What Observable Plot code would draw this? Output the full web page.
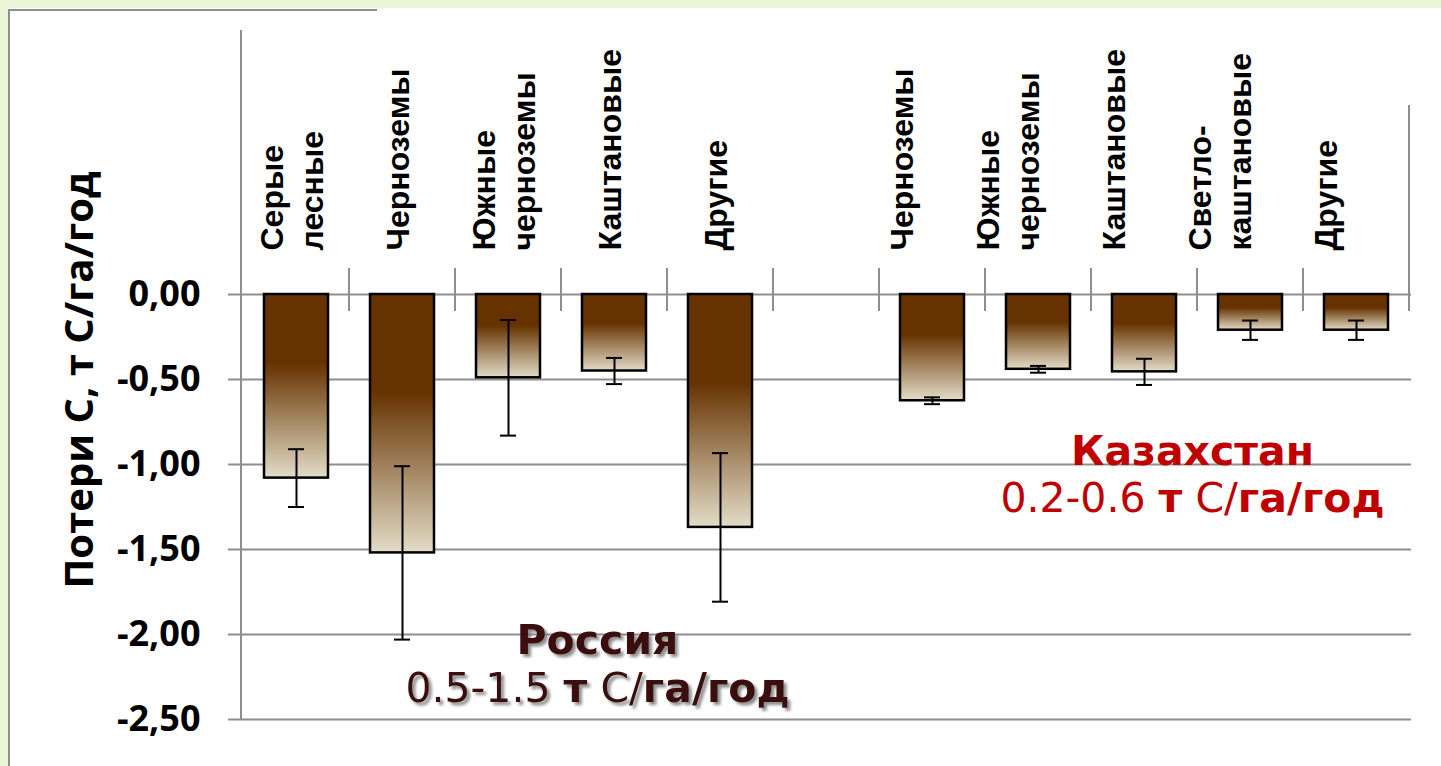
<!DOCTYPE html>
<html>
<head>
<meta charset="utf-8">
<script src="https://cdn.jsdelivr.net/npm/d3@7"></script>
<script src="https://cdn.jsdelivr.net/npm/@observablehq/plot@0.6"></script>
<style>
  html, body { margin: 0; padding: 0; width: 1441px; height: 766px; overflow: hidden; background: #eaf6d5; }
  #panel { position: absolute; left: 8px; top: 8px; right: 0; bottom: 0; background: #ffffff; }
  #edgeL { position: absolute; left: 8px; top: 9px; width: 2px; bottom: 0; background: #8e8e8e; }
  #edgeT { position: absolute; left: 8px; top: 9px; width: 369px; height: 2px; background: #8e8e8e; }
  #chart { position: absolute; left: 0; top: 0; }
</style>
</head>
<body>
<div id="panel"></div><div id="edgeL"></div><div id="edgeT"></div>
<div id="chart"></div>
<script>
// ---- data ----
const russiaSoils = ["Серые\nлесные", "Черноземы", "Южные\nчерноземы", "Каштановые", "Другие"];
const russiaLoss  = [-1.08, -1.52, -0.49, -0.45, -1.37];
const russiaErr   = [0.17, 0.51, 0.34, 0.077, 0.437];

const kazSoils = ["Черноземы", "Южные\nчерноземы", "Каштановые", "Светло-\nкаштановые", "Другие"];
const kazLoss  = [-0.625, -0.44, -0.455, -0.21, -0.21];
const kazErr   = [0.02, 0.02, 0.077, 0.057, 0.057];

const yTicks = [0, -0.5, -1, -1.5, -2, -2.5];
const yTitle = "Потери C, т C/га/год";

const rusTitle = "Россия";
const rusRange = ["0.5-1.5 ", "т", " C/", "га/год"];
const kazTitle = "Казахстан";
const kazRange = ["0.2-0.6 ", "т", " C/", "га/год"];
const rangeWeights = [400, 700, 400, 700];

// ---- table ----
const rusRows = russiaSoils.map((s, i) => ({key: "R" + i, soil: s, loss: russiaLoss[i], err: russiaErr[i]}));
const kazRows = kazSoils.map((s, i) => ({key: "K" + i, soil: s, loss: kazLoss[i], err: kazErr[i]}));
const rows = [...rusRows, ...kazRows];
const domain = [...rusRows.map(d => d.key), "gap", ...kazRows.map(d => d.key)];

const gridColor = "#8e8e8e";

const defs = () => {
  const d = d3.create("svg:defs");
  const g = d.append("linearGradient").attr("id", "barGrad")
    .attr("x1", 0).attr("y1", 0).attr("x2", 0).attr("y2", 1);
  g.append("stop").attr("offset", "0").attr("stop-color", "#663300");
  g.append("stop").attr("offset", "0.38").attr("stop-color", "#663300");
  g.append("stop").attr("offset", "1").attr("stop-color", "#e3dcc7");
  const f = d.append("filter").attr("id", "noteShadow")
    .attr("x", "-10%").attr("y", "-30%").attr("width", "130%").attr("height", "170%");
  f.append("feDropShadow").attr("dx", 3).attr("dy", 3).attr("stdDeviation", 1.6)
    .attr("flood-color", "#6f6f6f").attr("flood-opacity", 0.8);
  return d.node();
};

const catTicks = (index, scales, values, dims) => {
  const x = scales.x, y = scales.y, bw = x.bandwidth();
  const y0 = y(0);
  const g = d3.create("svg:g").attr("stroke", gridColor).attr("stroke-width", 2);
  const dom = x.domain();
  dom.slice(1).forEach(k => {
    g.append("line").attr("x1", x(k)).attr("x2", x(k)).attr("y1", y0 - 26).attr("y2", y0 + 17);
  });
  const xe = x(dom[dom.length - 1]) + bw;
  g.append("line").attr("x1", xe).attr("x2", xe).attr("y1", y0 - 189).attr("y2", y0 + 17);
  g.append("line")
    .attr("x1", dims.marginLeft).attr("x2", dims.marginLeft)
    .attr("y1", dims.marginTop).attr("y2", dims.height - dims.marginBottom);
  return g.node();
};

const labelFont = "Liberation Sans, Arial, sans-serif";
const noteFont = "DejaVu Sans, sans-serif";
const labelOpts = {
  x: "key", y: () => 0, text: "soil", rotate: -90, textAnchor: "start", lineAnchor: "middle",
  lineHeight: 1.25, dy: -44, fontSize: 32, fontWeight: 700, fontFamily: labelFont, fill: "black"
};
const noteOpts = {fontSize: 41, fontFamily: noteFont, lineAnchor: "middle", textAnchor: "middle"};

const chart = Plot.plot({
  width: 1441, height: 766,
  marginLeft: 241, marginRight: 30, marginTop: 30, marginBottom: 47,
  style: {background: "transparent", overflow: "visible"},
  x: {type: "band", domain, padding: 0, axis: null},
  y: {domain: [-2.5, 1.553]},
  marks: [
    defs,
    Plot.gridY(yTicks, {stroke: gridColor, strokeOpacity: 1, strokeWidth: 2}),
    Plot.axisY(yTicks, {
      tickSize: 13, tickPadding: 28, stroke: gridColor, strokeWidth: 2, strokeOpacity: 1,
      tickFormat: d => d.toFixed(2).replace(".", ","), label: null,
      fontSize: 36, fontWeight: 700, fontFamily: "Open Sans, sans-serif", fill: "black"
    }),
    catTicks,
    Plot.barY(rows, {x: "key", y1: () => 0, y2: "loss", fill: "url(#barGrad)", stroke: "black",
      strokeWidth: 2.5, insetLeft: 21, insetRight: 21}),
    Plot.ruleX(rows, {x: "key", y1: d => d.loss - d.err, y2: d => d.loss + d.err, stroke: "black", strokeWidth: 2}),
    Plot.tickY(rows, {x: "key", y: d => d.loss - d.err, stroke: "black", strokeWidth: 2, insetLeft: 45, insetRight: 45}),
    Plot.tickY(rows, {x: "key", y: d => d.loss + d.err, stroke: "black", strokeWidth: 2, insetLeft: 45, insetRight: 45}),
    Plot.text(rusRows, {...labelOpts, dx: -6}),
    Plot.text(kazRows, {...labelOpts, dx: -32}),
    Plot.text([yTitle], {frameAnchor: "left", rotate: -90, dx: -161, dy: 5, fontSize: 40, fontWeight: 700,
      fontFamily: "Open Sans, sans-serif", fill: "black", textAnchor: "middle"}),
    // Russia note
    Plot.text([rusTitle], {...noteOpts, x: () => "R3", y: () => -2.035, dx: -17, fontWeight: 700, fill: "#3a0e09"}),
    Plot.text([rusRange.join("")], {...noteOpts, x: () => "R3", y: () => -2.32, dx: -17, fill: "#3a0e09"}),
    // Kazakhstan note
    Plot.text([kazTitle], {...noteOpts, x: () => "K3", y: () => -0.926, dx: -58, fontWeight: 700, fill: "#c00000"}),
    Plot.text([kazRange.join("")], {...noteOpts, x: () => "K3", y: () => -1.203, dx: -58, fill: "#c00000"})
  ]
});

// mixed weights within the range lines, shadow on the Russia note
const segMap = {[rusRange.join("")]: rusRange, [kazRange.join("")]: kazRange};
const shadowed = new Set([rusTitle, rusRange.join("")]);
d3.select(chart).selectAll("text").each(function () {
  const content = this.textContent;
  if (shadowed.has(content)) d3.select(this).attr("filter", "url(#noteShadow)");
  const segs = segMap[content];
  if (!segs || this.querySelector("tspan")) return;
  const t = d3.select(this).style("white-space", "pre");
  t.text(null);
  segs.forEach((s, i) => t.append("tspan").attr("font-weight", rangeWeights[i]).text(s));
});

document.getElementById("chart").appendChild(chart);
</script>
</body>
</html>
